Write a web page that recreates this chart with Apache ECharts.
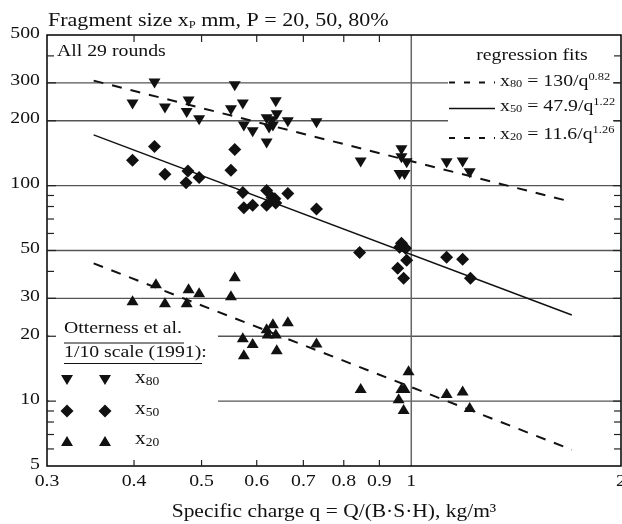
<!DOCTYPE html>
<html><head><meta charset="utf-8">
<script src="https://cdn.jsdelivr.net/npm/echarts@6/dist/echarts.min.js"></script>
<style>html,body{margin:0;padding:0;background:#fff}#c{width:622px;height:524px}</style>
</head><body><div id="c"></div>
<script>
// ---- data ----
const q80 = [0.398,0.428,0.443,0.479,0.476,0.496,0.558,0.551,0.573,0.575,0.592,0.620,0.620,0.625,0.639,0.641,0.633,0.631,0.665,0.731,0.846,0.968,0.968,0.985,0.962,0.978,1.124,1.185,1.213];
const v80 = [238,298,228,246,217,201,289,224,238,188,177,203,157,184,244,212,188,199,197,195,128,146,134,127,112,112,127,128,114];
const q50 = [0.398,0.428,0.443,0.478,0.475,0.496,0.558,0.551,0.573,0.575,0.592,0.620,0.620,0.631,0.637,0.639,0.665,0.731,0.843,0.968,0.981,0.962,0.985,0.956,0.975,1.124,1.185,1.216];
const v50 = [131,152,113,117,103,109,147,118,93,79,81,95,81,88,87,83,92,78,49,54,51.2,51.8,45,41.4,37.2,46.5,45.5,37.2];
const q20 = [0.398,0.430,0.443,0.476,0.479,0.496,0.558,0.551,0.573,0.592,0.575,0.620,0.633,0.622,0.639,0.641,0.665,0.731,0.846,0.991,0.968,0.978,0.959,0.975,1.124,1.185,1.213];
const v20 = [29.4,35.2,28.8,28.8,33.4,32.0,38.0,31.0,19.8,18.6,16.5,21.8,23.0,20.6,20.6,17.4,23.5,18.7,11.5,13.9,11.5,11.5,10.3,9.2,10.9,11.2,9.4];
// regression fit lines (end points)
const fitQ = [0.35, 1.7];
const fit80 = [307, 84];
const fit50 = [172, 25.1];
const fit20 = [43.6, 5.95];
// axes
const xTickValues = [0.3,0.4,0.5,0.6,0.7,0.8,0.9,1,2];
const xTickLabels = ['0.3','0.4','0.5','0.6','0.7','0.8','0.9','1','2'];
const xMinorTicks = [0.4,0.5,0.6,0.7,0.8,0.9];
const yTickValues = [5,10,20,30,50,100,200,300,500];
const yTickLabels = ['5','10','20','30','50','100','200','300','500'];
const yMinorTicks = [6,7,8,9,40,60,70,80,90,400];
const yGridValues = [10,20,30,50,100,200,300];
const xGridValues = [1];

const INK = '#111';
const FF = "'Liberation Serif','Times New Roman',serif";
const SX = 1.13;
const pairs = (a, b) => a.map((v, i) => [v, b[i]]);

const chart = echarts.init(document.getElementById('c'), null, {renderer: 'canvas'});
const hiddenAxis = (min, max) => ({
  type: 'log', logBase: 10, min: min, max: max,
  axisLine: {show: false}, axisTick: {show: false}, axisLabel: {show: false}, splitLine: {show: false}
});
const markStyle = {color: INK, opacity: 1};
chart.setOption({
  animation: false,
  grid: {left: 47, top: 35, right: 1, bottom: 58, show: false},
  xAxis: hiddenAxis(0.3, 2),
  yAxis: hiddenAxis(5, 500),
  series: [
    {type: 'scatter', name: 'x80', data: pairs(q80, v80), symbol: 'triangle', symbolRotate: 180, symbolSize: [12, 10], itemStyle: markStyle, z: 5},
    {type: 'scatter', name: 'x50', data: pairs(q50, v50), symbol: 'diamond', symbolSize: [13, 13], itemStyle: markStyle, z: 5},
    {type: 'scatter', name: 'x20', data: pairs(q20, v20), symbol: 'triangle', symbolSize: [12, 10], itemStyle: markStyle, z: 5},
    {type: 'line', name: 'fit80', data: pairs(fitQ, fit80), symbol: 'none', lineStyle: {color: INK, width: 2, type: [10, 9]}, z: 4},
    {type: 'line', name: 'fit50', data: pairs(fitQ, fit50), symbol: 'none', lineStyle: {color: INK, width: 1.5}, z: 4},
    {type: 'line', name: 'fit20', data: pairs(fitQ, fit20), symbol: 'none', lineStyle: {color: INK, width: 2, type: [10, 9]}, z: 4}
  ]
});

function px(x, y) { return chart.convertToPixel({gridIndex: 0}, [x, y]); }
const [X0, Y0] = px(0.3, 5);
const [X1, Y1] = px(2, 500);
const els = [];
function line(x1, y1, x2, y2, z, stroke, w, dash) {
  els.push({type: 'line', z: z, shape: {x1, y1, x2, y2}, style: {stroke: stroke, lineWidth: w, lineDash: dash || null}, silent: true});
}
function text(x, y, str, size, align, rich) {
  const st = {text: str, fontSize: size, fontFamily: FF, fill: INK, align: align || 'left', verticalAlign: 'middle'};
  if (rich) st.rich = rich;
  els.push({type: 'text', z: 8, x: x, y: y, scaleX: SX, style: st, silent: true});
}
// gridlines
yGridValues.forEach(v => { const y = px(1, v)[1]; line(X0, y, X1, y, 1, '#555', 1.3); });
xGridValues.forEach(v => { const x = px(v, 5)[0]; line(x, Y0, x, Y1, 1, '#666', 1.5); });
// legend boxes (white, hide grid lines)
els.push({type: 'rect', z: 3, shape: {x: 448, y: 38, width: 166, height: 112}, style: {fill: '#fff'}, silent: true});
els.push({type: 'rect', z: 3, shape: {x: 49, y: 312, width: 169, height: 152}, style: {fill: '#fff'}, silent: true});
// frame
els.push({type: 'rect', z: 7, shape: {x: X0, y: Y1, width: X1 - X0, height: Y0 - Y1}, style: {fill: null, stroke: '#000', lineWidth: 1.5}, silent: true});
// ticks
yMinorTicks.forEach(v => { const y = px(1, v)[1]; line(X0, y, X0 + 7, y, 7, '#222', 1.2); line(X1, y, X1 - 7, y, 7, '#222', 1.2); });
yTickValues.slice(1, -1).forEach(v => { const y = px(1, v)[1]; line(X0, y, X0 + 9, y, 7, '#222', 1.2); line(X1, y, X1 - 8, y, 7, '#222', 1.2); });
xMinorTicks.forEach(v => { const x = px(v, 5)[0]; line(x, Y1, x, Y1 + 7, 7, '#222', 1.2); line(x, Y0, x, Y0 - 6, 7, '#222', 1.2); });
// tick labels
yTickValues.forEach((v, i) => { const y = px(1, v)[1]; text(40, y - 2, yTickLabels[i], 17.5, 'right'); });
xTickValues.forEach((v, i) => { const x = px(v, 5)[0]; text(x, Y0 + 15, xTickLabels[i], 17.5, 'center'); });
// titles
text(48, 20.5, '{a|Fragment size x}{p|P}{a| mm, P = 20, 50, 80%}', 19.5, 'left',
  {a: {fontSize: 19.5, fontFamily: FF, fill: INK}, p: {fontSize: 11, fontFamily: FF, fill: INK, verticalAlign: 'bottom'}});
text(334, 512, 'Specific charge q = Q/(B\u00b7S\u00b7H), kg/m\u00b3', 19, 'center');
text(57, 51, 'All 29 rounds', 17.5, 'left');
// regression legend
text(532, 55, 'regression fits', 17.5, 'center');
const fitRich = {a: {fontSize: 17.5, fontFamily: FF, fill: INK}, s: {fontSize: 11, fontFamily: FF, fill: INK, verticalAlign: 'bottom', padding: [6, 0, 0, 0]}, u: {fontSize: 11, fontFamily: FF, fill: INK, verticalAlign: 'top', padding: [0, 0, 4, 0]}};
const subRich = {a: {fontSize: 19, fontFamily: FF, fill: INK}, s: {fontSize: 12, fontFamily: FF, fill: INK, verticalAlign: 'bottom', padding: [6, 0, 0, 0]}};
const fitRows = [['80', '130', '0.82', true], ['50', '47.9', '1.22', false], ['20', '11.6', '1.26', true]];
const fitRowY = [81, 106, 134];
const fitLineY = [82.5, 108.5, 138];
fitRows.forEach((r, i) => {
  line(449, fitLineY[i], 495, fitLineY[i], 8, INK, r[3] ? 2 : 1.5, r[3] ? [6, 9] : null);
  text(500, fitRowY[i], '{a|x}{s|' + r[0] + '}{a| = ' + r[1] + '/q}{u|' + r[2] + '}', 17.5, 'left', fitRich);
});
// Otterness legend
text(64, 328, 'Otterness et al.', 17.5, 'left');
line(64, 343, 184, 343, 8, INK, 1);
text(64, 352, '1/10 scale (1991):', 17.5, 'left');
line(64, 363.5, 202, 363.5, 8, INK, 1);
const mk = {
  down: (cx, cy) => [[cx - 6, cy - 5], [cx + 6, cy - 5], [cx, cy + 5]],
  diamond: (cx, cy) => [[cx, cy - 6.5], [cx + 6.5, cy], [cx, cy + 6.5], [cx - 6.5, cy]],
  up: (cx, cy) => [[cx, cy - 5], [cx + 6, cy + 5], [cx - 6, cy + 5]]
};
const legRows = [['down', '80', 380], ['diamond', '50', 411], ['up', '20', 441]];
legRows.forEach(r => {
  [67, 105].forEach(cx => els.push({type: 'polygon', z: 8, shape: {points: mk[r[0]](cx, r[2])}, style: {fill: INK}, silent: true}));
  text(135, r[2] - 2, '{a|x}{s|' + r[1] + '}', 19, 'left', subRich);
});
chart.setOption({graphic: els});
</script>
</body></html>
